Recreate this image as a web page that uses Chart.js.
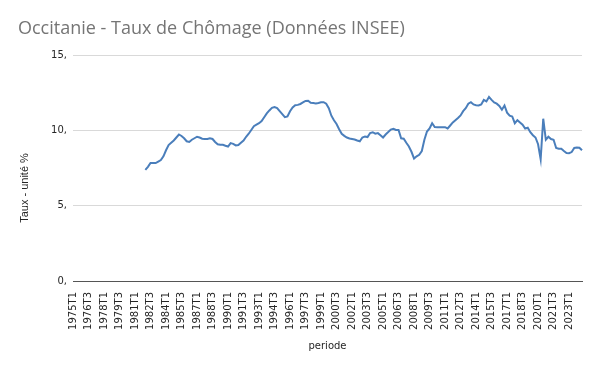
<!DOCTYPE html>
<html>
<head>
<meta charset="utf-8">
<script src="https://cdn.jsdelivr.net/npm/chart.js@4.4.1/dist/chart.umd.min.js"></script>
<style>
  html, body { margin: 0; padding: 0; background: #fff; }
  #wrap { width: 600px; height: 371px; }
</style>
</head>
<body>
<div id="wrap"><canvas id="chart" width="600" height="371"></canvas></div>
<script>
// quarters 1975T1 .. 2024T2
const periods = [];
for (let y = 1975; y <= 2024; y++) {
  for (let q = 1; q <= 4; q++) {
    if (y === 2024 && q > 2) break;
    periods.push(y + 'T' + q);
  }
}

// unemployment rate, 1982T1 .. 2024T2 (nothing before 1982)
const firstIndex = 28;
const rates = [
  7.4, 7.6, 7.85, 7.85, 7.85, 7.95, 8.05, 8.3, 8.7, 9.05,
  9.2, 9.35, 9.55, 9.75, 9.65, 9.5, 9.3, 9.25, 9.4, 9.5,
  9.6, 9.55, 9.47, 9.45, 9.45, 9.5, 9.45, 9.25, 9.1, 9.07,
  9.07, 9.0, 8.95, 9.18, 9.13, 9.02, 9.05, 9.2, 9.35, 9.6,
  9.8, 10.05, 10.3, 10.4, 10.5, 10.64, 10.9, 11.15, 11.35, 11.52,
  11.57, 11.5, 11.3, 11.1, 10.9, 10.95, 11.3, 11.55, 11.7, 11.72,
  11.78, 11.88, 11.98, 12.0, 11.86, 11.84, 11.82, 11.85, 11.9, 11.9,
  11.8, 11.5, 11.0, 10.7, 10.45, 10.1, 9.8, 9.66, 9.55, 9.48,
  9.45, 9.42, 9.35, 9.3, 9.55, 9.62, 9.58, 9.85, 9.9, 9.8,
  9.84, 9.7, 9.55, 9.75, 9.91, 10.08, 10.13, 10.05, 10.05, 9.5,
  9.47, 9.2, 8.95, 8.6, 8.15, 8.3, 8.4, 8.65, 9.4, 9.95,
  10.15, 10.5, 10.25, 10.24, 10.24, 10.24, 10.24, 10.15, 10.35, 10.55,
  10.7, 10.85, 11.02, 11.3, 11.5, 11.8, 11.9, 11.75, 11.7, 11.68,
  11.75, 12.05, 11.95, 12.25, 12.05, 11.88, 11.8, 11.65, 11.4, 11.68,
  11.2, 11.0, 10.95, 10.5, 10.7, 10.55, 10.4, 10.15, 10.2, 9.9,
  9.7, 9.55, 9.1, 8.1, 10.8, 9.4, 9.6, 9.45, 9.4, 8.85,
  8.8, 8.8, 8.65, 8.52, 8.5, 8.58, 8.85, 8.88, 8.87, 8.7
];

const series = periods.map((p, i) => (i < firstIndex ? null : rates[i - firstIndex]));

const yTicks = [0, 5, 10, 15];

// y axis title drawn a bit below the middle, like the original
const yTitle = {
  id: 'yTitle',
  afterDraw(chart) {
    const ctx = chart.ctx;
    ctx.save();
    ctx.translate(25, 188);
    ctx.rotate(-Math.PI / 2);
    ctx.font = '11px "Liberation Sans", Arial, sans-serif';
    ctx.fillStyle = '#262626';
    ctx.textAlign = 'center';
    ctx.textBaseline = 'middle';
    ctx.fillText('Taux - unité %', 0, 0);
    ctx.restore();
  }
};

new Chart(document.getElementById('chart'), {
  type: 'line',
  data: {
    labels: periods,
    datasets: [{
      label: 'Taux',
      data: series,
      borderColor: '#4a7ebb',
      borderWidth: 2,
      pointRadius: 0,
      tension: 0,
      spanGaps: false,
    }],
  },
  options: {
    animation: false,
    responsive: false,
    layout: { padding: { left: 18, right: 18, top: 0, bottom: 15 } },
    plugins: {
      legend: { display: false },
      tooltip: { enabled: false },
      title: {
        display: true,
        text: 'Occitanie - Taux de Chômage (Données INSEE)',
        align: 'start',
        color: '#757575',
        font: { family: '"Open Sans", sans-serif', size: 18, weight: 'normal' },
        padding: { top: 18, bottom: 16 },
      },
    },
    scales: {
      x: {
        afterFit: (s) => { s.height = 75; },
        grid: { display: false },
        border: { display: true, color: '#555', width: 1 },
        ticks: {
          autoSkip: false,
          maxRotation: 90,
          minRotation: 90,
          padding: 3,
          color: '#262626',
          font: { family: '"DejaVu Sans", sans-serif', size: 10 },
          callback: (v, i) => (i % 6 === 0 ? periods[i] : ''),
        },
        title: {
          display: true,
          text: 'periode',
          color: '#262626',
          font: { family: '"DejaVu Sans", sans-serif', size: 10 },
          padding: { top: 6 },
        },
      },
      y: {
        min: 0,
        max: 15,
        afterFit: (s) => { s.width = 55; },
        afterBuildTicks: (s) => { s.ticks = yTicks.map(v => ({ value: v })); },
        border: { display: false },
        grid: { color: '#d9d9d9', drawTicks: false },
        ticks: {
          padding: 6,
          color: '#262626',
          font: { family: '"DejaVu Sans", sans-serif', size: 10 },
          callback: (v) => v + ',',
        },
      },
    },
  },
  plugins: [yTitle],
});
</script>
</body>
</html>
